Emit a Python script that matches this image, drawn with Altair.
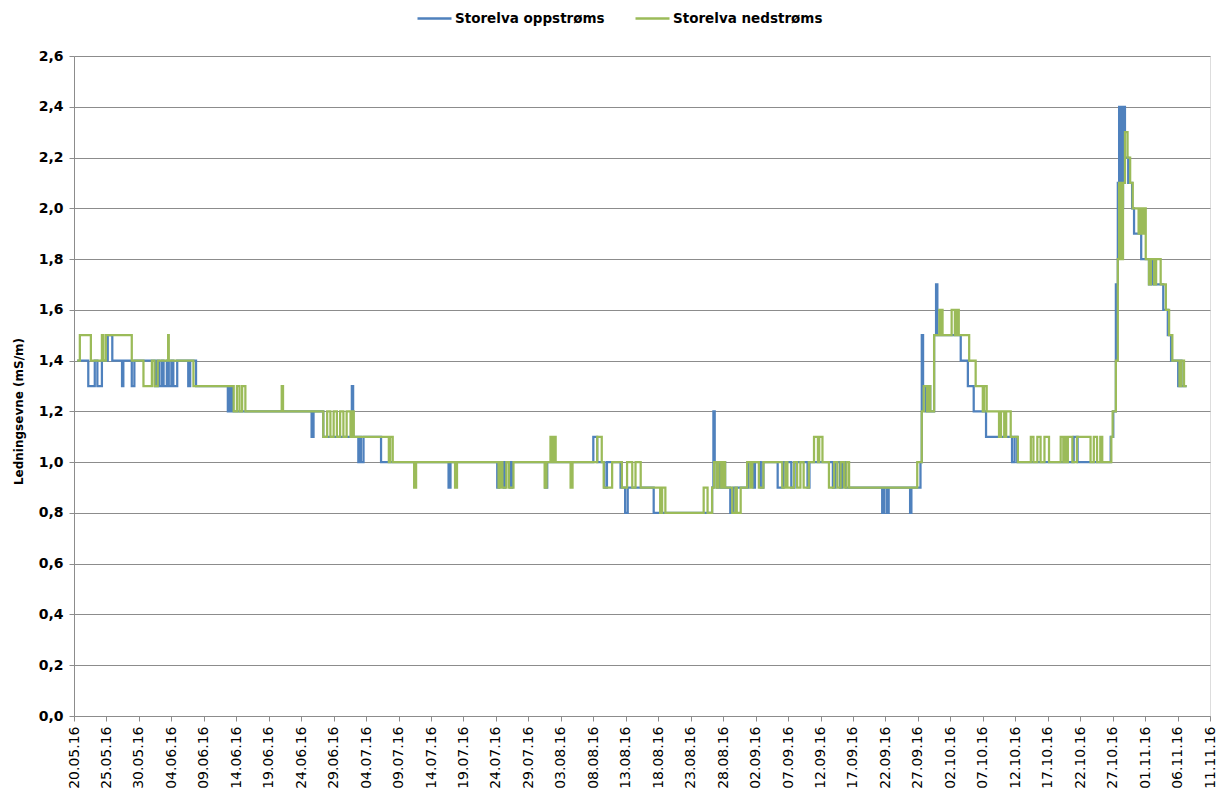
import altair as alt
import pandas as pd

START = pd.Timestamp("2016-05-20")

# Conductivity logger, Storelva. Each series is a list of change points:
# days since 20.05.2016 00:00 and the reading (mS/m) held from that moment.
up_days = [
    0.5, 2.2, 3.2, 3.6, 4.3, 5.2, 5.9, 7.4, 7.6, 8.9, 9.3, 12.5, 12.8, 13.1, 13.5,
    13.8, 14.3, 14.6, 15.0, 15.3, 15.9, 17.6, 17.9, 18.8, 23.7, 23.9, 24.1, 24.3,
    24.5, 36.6, 36.9, 38.4, 42.8, 43.0, 43.8, 44.0, 44.2, 44.6, 47.3, 57.7, 58.0,
    65.2, 65.5, 66.2, 66.4, 67.2, 67.5, 72.6, 72.9, 80.0, 80.6, 81.7, 82.1, 84.2,
    84.9, 85.3, 89.3, 98.3, 98.5, 98.7, 99.0, 99.3, 99.6, 100.0, 100.3, 101.1,
    101.6, 103.9, 104.7, 104.9, 105.8, 106.2, 108.4, 109.3, 110.5, 111.0, 113.0,
    113.3, 116.9, 117.3, 118.0, 118.3, 118.9, 124.5, 124.8, 125.2, 125.5, 128.8,
    129.0, 130.4, 130.6, 130.8, 131.2, 131.6, 131.9, 132.5, 132.8, 133.0, 136.6,
    137.7, 138.6, 140.5, 144.5, 144.9, 145.3, 154.0, 154.6, 159.7, 160.1, 160.5,
    160.8, 161.0, 161.3, 161.6, 161.9, 162.4, 163.0, 163.3, 164.4, 165.6, 165.9,
    166.1, 167.8, 168.5, 169.0, 170.1, 170.4, 170.6, 171.4,
]
up_vals = [
    1.4, 1.3, 1.4, 1.3, 1.4, 1.5, 1.4, 1.3, 1.4, 1.3, 1.4, 1.3, 1.4, 1.3, 1.4,
    1.3, 1.4, 1.3, 1.4, 1.3, 1.4, 1.3, 1.4, 1.3, 1.2, 1.3, 1.2, 1.3,
    1.2, 1.1, 1.2, 1.1, 1.3, 1.1, 1.0, 1.1, 1.0, 1.1, 1.0, 0.9, 1.0,
    0.9, 1.0, 0.9, 1.0, 0.9, 1.0, 0.9, 1.0, 1.1, 1.0, 0.9, 1.0, 0.9,
    0.8, 0.9, 0.8, 0.9, 1.2, 1.0, 0.9, 1.0, 0.9, 1.0, 0.9, 0.8,
    0.9, 1.0, 0.9, 1.0, 0.9, 1.0, 0.9, 1.0, 0.9, 1.0, 0.9,
    1.0, 0.9, 1.0, 0.9, 1.0, 0.9, 0.8, 0.9, 0.8, 0.9, 0.8,
    0.9, 1.0, 1.5, 1.3, 1.2, 1.3, 1.2, 1.5, 1.7, 1.5, 1.4,
    1.3, 1.2, 1.1, 1.0, 1.1, 1.0, 1.1, 1.0, 1.1, 1.2, 1.7,
    2.1, 2.4, 2.0, 2.4, 2.2, 2.1, 2.0, 1.9, 1.8, 1.7, 1.8,
    1.7, 1.6, 1.5, 1.4, 1.3, 1.4, 1.3, 1.3,
]

down_days = [
    0.5, 0.9, 2.6, 4.3, 4.5, 4.9, 8.9, 10.7, 12.0, 12.4, 12.9, 14.5, 14.6, 18.4,
    24.6, 25.1, 25.5, 25.9, 26.4, 32.0, 32.2, 38.4, 39.0, 39.5, 40.0, 40.5, 41.0,
    41.5, 42.0, 42.6, 42.9, 43.1, 48.5, 48.7, 49.1, 52.4, 52.7, 58.7, 59.0, 65.4,
    65.7, 66.0, 66.6, 67.0, 67.7, 72.5, 72.8, 73.4, 73.7, 73.9, 74.2, 76.5, 76.8,
    80.6, 81.3, 81.6, 82.9, 84.4, 85.2, 86.0, 86.5, 87.3, 90.3, 90.6, 91.1, 97.0,
    97.6, 98.3, 98.6, 99.0, 99.3, 99.7, 100.0, 100.3, 101.4, 101.9, 102.1, 102.7,
    103.7, 104.2, 104.5, 105.5, 106.2, 109.1, 109.6, 109.9, 110.9, 111.4, 111.9,
    112.4, 113.2, 114.0, 114.6, 114.8, 115.3, 116.3, 117.1, 117.6, 118.1, 118.6,
    119.0, 119.4, 129.9, 130.6, 130.9, 131.4, 131.6, 131.9, 132.5, 133.3, 133.5,
    133.6, 133.8, 135.2, 135.7, 136.0, 136.3, 137.9, 138.9, 140.0, 140.2, 140.6,
    142.5, 142.8, 143.3, 143.6, 144.3, 145.4, 147.4, 147.8, 148.4, 148.9, 149.5,
    150.2, 152.0, 152.4, 152.6, 152.9, 153.1, 153.8, 154.5, 156.6, 157.1, 157.6,
    158.1, 158.4, 159.8, 160.0, 160.5, 160.8, 161.0, 161.3, 161.6, 161.9, 162.3,
    162.7, 163.1, 164.0, 164.3, 164.6, 164.9, 165.1, 165.6, 165.9, 166.4, 166.7,
    167.4, 168.2, 168.7, 169.2, 170.3, 170.6, 171.0, 171.4,
]
down_vals = [
    1.4, 1.5, 1.4, 1.5, 1.4, 1.5, 1.4, 1.3, 1.4, 1.3, 1.4, 1.5, 1.4, 1.3,
    1.2, 1.3, 1.2, 1.3, 1.2, 1.3, 1.2, 1.1, 1.2, 1.1, 1.2, 1.1, 1.2,
    1.1, 1.2, 1.1, 1.2, 1.1, 1.0, 1.1, 1.0, 0.9, 1.0, 0.9, 1.0, 0.9,
    1.0, 0.9, 1.0, 0.9, 1.0, 0.9, 1.0, 1.1, 1.0, 1.1, 1.0, 0.9, 1.0,
    1.1, 1.0, 0.9, 1.0, 0.9, 1.0, 0.9, 1.0, 0.9, 0.8, 0.9, 0.8, 0.9,
    0.8, 0.9, 1.0, 0.9, 1.0, 0.9, 1.0, 0.9, 0.8, 0.9, 0.8, 0.9,
    1.0, 0.9, 1.0, 0.9, 1.0, 0.9, 1.0, 0.9, 1.0, 0.9, 1.0,
    0.9, 1.0, 1.1, 1.0, 1.1, 1.0, 0.9, 1.0, 0.9, 1.0, 0.9,
    1.0, 0.9, 1.0, 1.2, 1.3, 1.2, 1.3, 1.2, 1.5, 1.6, 1.5,
    1.6, 1.5, 1.6, 1.5, 1.6, 1.5, 1.4, 1.3, 1.2, 1.3, 1.2,
    1.1, 1.2, 1.1, 1.2, 1.1, 1.0, 1.1, 1.0, 1.1, 1.0, 1.1,
    1.0, 1.1, 1.0, 1.1, 1.0, 1.1, 1.0, 1.1, 1.0, 1.1, 1.0,
    1.1, 1.0, 1.1, 1.2, 1.4, 1.8, 2.1, 1.8, 2.1, 2.3, 2.2,
    2.1, 2.0, 1.9, 2.0, 1.9, 2.0, 1.8, 1.7, 1.8, 1.7, 1.8,
    1.7, 1.6, 1.5, 1.4, 1.3, 1.4, 1.3, 1.3,
]

x_ticks = [
    "20.05.16", "25.05.16", "30.05.16", "04.06.16", "09.06.16", "14.06.16",
    "19.06.16", "24.06.16", "29.06.16", "04.07.16", "09.07.16", "14.07.16",
    "19.07.16", "24.07.16", "29.07.16", "03.08.16", "08.08.16", "13.08.16",
    "18.08.16", "23.08.16", "28.08.16", "02.09.16", "07.09.16", "12.09.16",
    "17.09.16", "22.09.16", "27.09.16", "02.10.16", "07.10.16", "12.10.16",
    "17.10.16", "22.10.16", "27.10.16", "01.11.16", "06.11.16", "11.11.16",
]
y_ticks = [0.0, 0.2, 0.4, 0.6, 0.8, 1.0, 1.2, 1.4, 1.6, 1.8, 2.0, 2.2, 2.4, 2.6]

SERIES = ["Storelva oppstrøms", "Storelva nedstrøms"]
COLORS = ["#4F81BD", "#9BBB59"]
GRID = "#8c8c8c"
FONT = "DejaVu Sans"


def as_datetime(label):
    d, m, y = (int(p) for p in label.split("."))
    return alt.DateTime(year=2000 + y, month=m, date=d)


def series_frame(days, vals, name):
    t = (START + pd.to_timedelta(days, unit="D")).round("min")
    return pd.DataFrame({"time": t, "value": vals, "series": name})


x_enc = alt.X(
    "time:T",
    scale=alt.Scale(domain=[as_datetime(x_ticks[0]), as_datetime(x_ticks[-1])]),
    axis=alt.Axis(
        values=[as_datetime(s) for s in x_ticks],
        format="%d.%m.%y",
        labelAngle=270,
        labelAlign="right",
        labelBaseline="middle",
        labelFont=FONT,
        labelFontSize=14,
        labelColor="#000000",
        labelPadding=5,
        labelOverlap=False,
        grid=False,
        domainColor=GRID,
        tickColor=GRID,
        tickSize=5,
        title=None,
    ),
)

y_enc = alt.Y(
    "value:Q",
    scale=alt.Scale(domain=[0, 2.6], nice=False, zero=True),
    axis=alt.Axis(
        values=y_ticks,
        labelExpr="replace(format(datum.value, '.1f'), '.', ',')",
        labelFont=FONT,
        labelFontSize=14,
        labelFontWeight="bold",
        labelColor="#000000",
        labelPadding=6,
        grid=True,
        gridColor=GRID,
        gridWidth=1,
        domainColor=GRID,
        tickColor=GRID,
        tickSize=5,
        title="Ledningsevne (mS/m)",
        titleFont=FONT,
        titleFontSize=12,
        titleFontWeight="bold",
        titleColor="#000000",
        titleAngle=270,
        titleAlign="center",
        titleBaseline="middle",
        titleX=-56,
        titleY=355,
    ),
)

color_enc = alt.Color(
    "series:N",
    scale=alt.Scale(domain=SERIES, range=COLORS),
    legend=alt.Legend(
        title=None,
        orient="none",
        direction="horizontal",
        legendX=342,
        legendY=-56,
        symbolType="stroke",
        symbolSize=1156,
        symbolStrokeWidth=2.5,
        labelFont=FONT,
        labelFontSize=13.5,
        labelFontWeight="bold",
        labelColor="#000000",
        labelOffset=2,
        columnPadding=25,
        padding=0,
    ),
)

layers = [
    alt.Chart(series_frame(d, v, name))
    .mark_line(interpolate="step-after", strokeWidth=2.25)
    .encode(x=x_enc, y=y_enc, color=color_enc)
    for d, v, name in [
        (up_days, up_vals, SERIES[0]),
        (down_days, down_vals, SERIES[1]),
    ]
]

chart = (
    alt.layer(*layers)
    .properties(
        width=1136,
        height=660,
        autosize=alt.AutoSizeParams(type="none"),
        padding={"left": 74, "top": 56, "right": 13, "bottom": 78},
        background="white",
    )
    .configure_view(stroke=None)
    .configure(font=FONT)
)

chart.save("out.html", embed_options={"renderer": "svg", "actions": False})
